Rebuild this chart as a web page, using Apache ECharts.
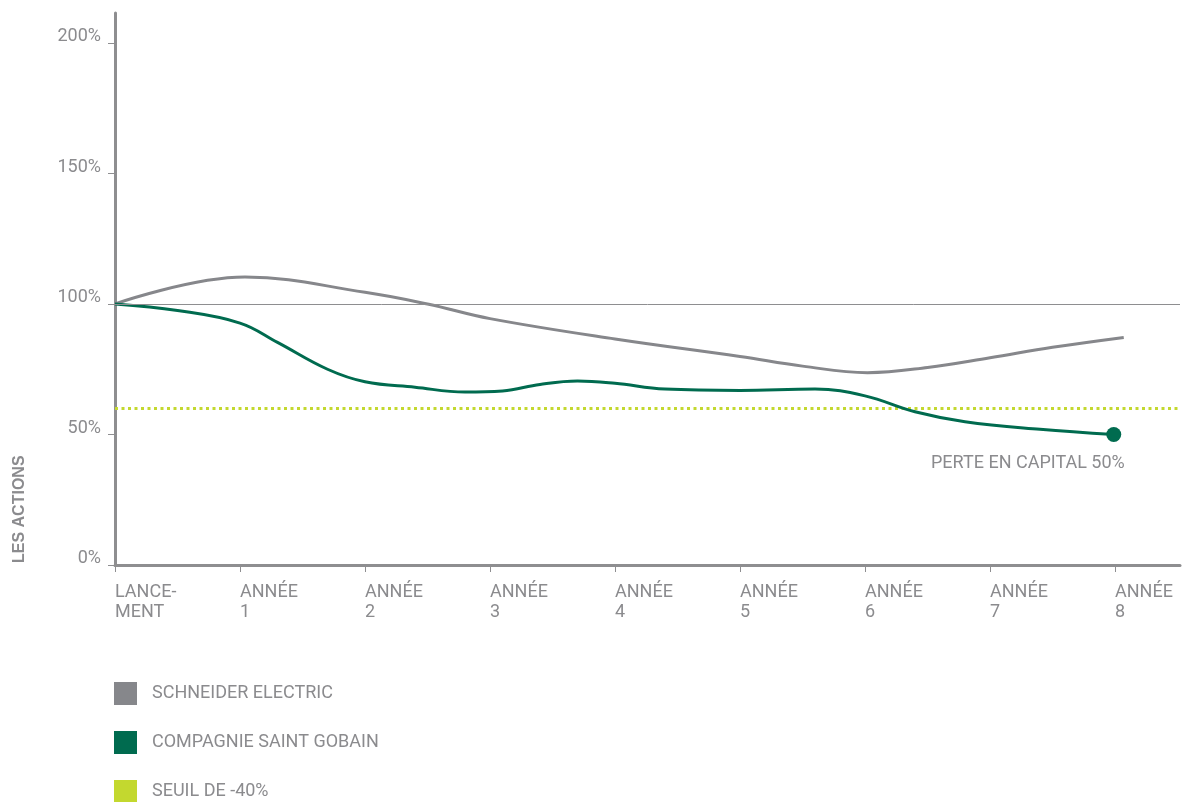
<!DOCTYPE html>
<html>
<head>
<meta charset="utf-8">
<script src="https://cdn.jsdelivr.net/npm/echarts@6/dist/echarts.min.js"></script>
<style>
html,body{margin:0;padding:0;background:#fff;}
#c{width:1185px;height:802px;}
</style>
</head>
<body>
<div id="c"></div>
<script>
// ---- data ----
const xTickLabels = ["LANCE-\nMENT","ANNÉE\n1","ANNÉE\n2","ANNÉE\n3","ANNÉE\n4","ANNÉE\n5","ANNÉE\n6","ANNÉE\n7","ANNÉE\n8"];
const xTickValues = [0,1,2,3,4,5,6,7,8];
const yTickValues = [0,50,100,150,200];
const seriesNames = ["SCHNEIDER ELECTRIC","COMPAGNIE SAINT GOBAIN","SEUIL DE -40%"];
const schneiderX = [0,1.04,2,2.5,3,4,5,5.5,6.02,6.5,7,7.5,8.07];
const schneiderY = [100,110.3,104.5,100,94.4,86.6,79.9,76.2,73.7,75.7,79.4,83.4,87.2];
const gobainX = [0,0.5,1,1.3,1.7,2,2.4,2.8,3.1,3.4,3.7,4,4.4,5,5.6,6,6.4,6.8,7.4,7.99];
const gobainY = [100,97.5,92.7,85.3,75,70.2,68.1,66.3,66.7,69.2,70.5,69.6,67.4,66.9,67.4,64.8,58.7,54.9,52,50];
const thresholdX = [0,8.52];
const thresholdY = [60,60];
const refLine = 100;
const endLabel = "PERTE EN CAPITAL 50%";
const axisTitle = "LES ACTIONS";

const GRAY = '#86878b', GREEN = '#006b4f', LIME = '#c3d82f', TXT = '#8b8b8e', AX = '#8e8e90';
const FONT = 'Roboto, "Liberation Sans", sans-serif';
const legendTops = [682, 731, 780];

const zip = (xs, ys) => xs.map((x,i)=>[x, ys[i]]);
const gobainData = zip(gobainX, gobainY).map((p,i,arr)=> i===arr.length-1 ? {
  value:p, symbol:'circle', symbolSize:15,
  itemStyle:{color:GREEN},
  label:{show:true, formatter:endLabel, position:'inside', align:'right', verticalAlign:'middle',
         offset:[11,29], color:TXT, fontSize:18, fontFamily:FONT}
} : p);

const chart = echarts.init(document.getElementById('c'), null, {renderer:'canvas'});
chart.setOption({
  animation:false,
  textStyle:{fontFamily:FONT},
  grid:{left:115, right:5, top:13, bottom:237, containLabel:false},
  xAxis:[{
    type:'value', min:0, max:8.52,
    axisLine:{show:true, lineStyle:{color:AX, width:1}},
    axisTick:{show:true, length:7, lineStyle:{color:AX}, customValues:xTickValues},
    axisLabel:{show:true, customValues:xTickValues, formatter:v=>xTickLabels[Math.round(v)],
      align:'left', verticalAlign:'top', margin:17, color:TXT, fontSize:18, lineHeight:20, fontFamily:FONT},
    splitLine:{show:false}
  },{
    type:'value', min:0, max:8.52, position:'bottom', offset:75,
    axisLine:{show:true, lineStyle:{color:AX, width:3}},
    axisTick:{show:false}, axisLabel:{show:false}, splitLine:{show:false}
  }],
  yAxis:[{
    type:'value', min:0, max:211.5,
    axisLine:{show:true, lineStyle:{color:AX, width:1}},
    axisTick:{show:true, length:7, lineStyle:{color:AX}, customValues:yTickValues},
    axisLabel:{show:true, customValues:yTickValues, formatter:v=>v+'%', margin:14,
      color:TXT, fontSize:18, fontFamily:FONT, verticalAlign:'bottom', lineHeight:13},
    splitLine:{show:false}
  },{
    type:'value', min:0, max:211.5, position:'left', offset:77,
    axisLine:{show:true, lineStyle:{color:AX, width:3}},
    axisTick:{show:false}, axisLabel:{show:false}, splitLine:{show:false}
  }],
  legend: seriesNames.map((n,i)=>({
    orient:'vertical', left:114, top:legendTops[i], padding:0, itemWidth:23, itemHeight:23,
    icon:'rect', data:[n],
    textStyle:{color:TXT, fontSize:18, fontFamily:FONT, padding:[0,0,0,10]}
  })),
  graphic:[{
    type:'text', x:20, y:563, rotation:Math.PI/2,
    style:{text:axisTitle, fill:TXT, font:'bold 16px "Liberation Sans", sans-serif',
      textAlign:'left', textVerticalAlign:'middle'}
  }],
  series:[
    {name:seriesNames[0], type:'line', data:zip(schneiderX, schneiderY), smooth:0.4, symbol:'none',
     color:GRAY, lineStyle:{color:GRAY, width:3}, z:3,
     markLine:{silent:true, symbol:'none', label:{show:false},
       lineStyle:{color:AX, width:1, type:'solid'}, data:[{yAxis:refLine}]}},
    {name:seriesNames[1], type:'line', data:gobainData, smooth:0.4, symbol:'none',
     color:GREEN, lineStyle:{color:GREEN, width:3}, z:4},
    {name:seriesNames[2], type:'line', data:zip(thresholdX, thresholdY), symbol:'none',
     color:LIME, lineStyle:{color:LIME, width:3, type:[3,3.5]}, z:2}
  ]
});
</script>
</body>
</html>
